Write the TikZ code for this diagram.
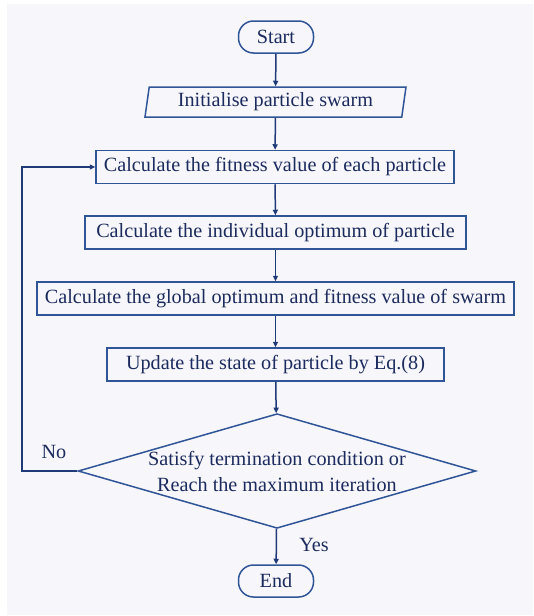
\documentclass[tikz,border=0pt]{standalone}
\usepackage{fontspec}
\setmainfont{Liberation Serif}
\usetikzlibrary{arrows.meta,shapes.geometric}
\definecolor{boxline}{HTML}{2F5597}
\definecolor{flowline}{HTML}{1F3A78}
\definecolor{boxtext}{HTML}{1C2B5E}
\definecolor{paper}{HTML}{F7F6FB}
\tikzset{>/.tip={Triangle[length=5.5pt,width=5pt]},
  box/.style={draw=boxline, line width=1.5pt, text=boxtext, inner sep=0pt,
    font=\fontsize{20.2}{26}\selectfont},
  process/.style={box, rectangle, minimum height=33pt},
  terminal/.style={box, rectangle, rounded corners=15pt, minimum width=75pt, minimum height=32pt},
  io/.style={box, trapezium, trapezium left angle=77, trapezium right angle=103,
    trapezium stretches body, minimum width=261pt, minimum height=30pt},
  decision/.style={box, diamond, aspect=3.47, align=center, minimum width=396pt, minimum height=114pt},
  flow/.style={->, draw=flowline, line width=1.5pt},
  answer/.style={text=boxtext, font=\fontsize{20.2}{26}\selectfont}}

\begin{document}
\begin{tikzpicture}[x=1pt, y=-1pt]
\fill[white] (0,0) rectangle (533,616);
\fill[paper] (7,4) rectangle (533,615);
\useasboundingbox (0,0) rectangle (533,616);

\node[terminal] (start) at (276,37) {Start};
\node[io] (init) at (275.5,102) {Initialise particle swarm};
\node[process, minimum width=358pt] (fit) at (275,167) {Calculate the fitness value of each particle};
\node[process, minimum width=381pt] (indiv) at (275.5,232.5) {Calculate the individual optimum of particle};
\node[process, minimum width=477pt] (global) at (275.5,298.5) {Calculate the global optimum and fitness value of swarm};
\node[process, minimum width=337pt] (update) at (275.5,364.5) {Update the state of particle by Eq.(8)};
\node[decision] (cond) at (277,471) {Satisfy termination condition or\\Reach the maximum iteration};
\node[terminal] (end) at (276,581) {End};
\coordinate (loop) at (22,471);
\node[answer] (no) at (54,452) {No};
\node[answer] (yes) at (314,545) {Yes};

\draw[flow] (start) to (init);
\draw[flow] (init) to (fit);
\draw[flow] (fit) to (indiv);
\draw[flow] (indiv) to (global);
\draw[flow] (global) to (update);
\draw[flow] (update) to (cond);
\draw[flow] (cond) to (end);
\draw[flow] (cond.west) -- (loop) |- (fit.west);
\end{tikzpicture}
\end{document}
